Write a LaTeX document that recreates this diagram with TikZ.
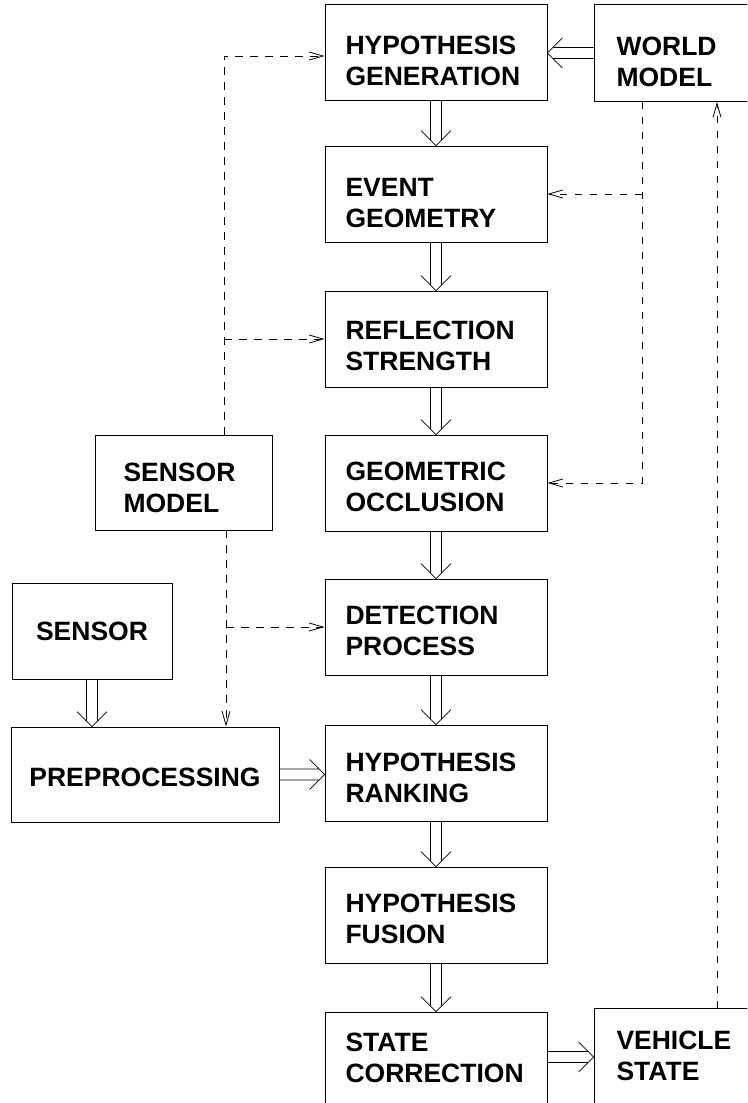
\documentclass[tikz,border=0pt]{standalone}
\usepackage{fontspec}
\setmainfont{Liberation Sans}
\usetikzlibrary{arrows.meta,calc}
\begin{document}
\begin{tikzpicture}[x=1pt,y=-1pt,
  lbl/.style={font=\bfseries\fontsize{26.5}{31}\selectfont},
  box/.style={lbl, draw, line width=0.8pt, inner sep=0pt, minimum width=222pt,
    minimum height=96pt, text width=181pt, align=left, text depth=23pt},
  wbox/.style={box, text width=177pt, minimum height=97pt},
  smbox/.style={box, minimum width=177pt, minimum height=95pt, text width=120pt},
  onebox/.style={lbl, draw, line width=0.8pt, inner sep=0pt, minimum height=96pt, align=center},
  dsh/.style={line width=0.8pt, dash pattern=on 7.5pt off 7.5pt,
    -{Straight Barb[length=14pt,width=8pt]}},
  dbldown/.style={line width=0.8pt, to path={
    ([xshift=-5.5pt]\tikztostart) -- ([xshift=-5.5pt,yshift=5.5pt]\tikztotarget)
    ([xshift=5.5pt]\tikztostart) -- ([xshift=5.5pt,yshift=5.5pt]\tikztotarget)
    ([xshift=-15pt,yshift=15pt]\tikztotarget) -- (\tikztotarget) -- ([xshift=15pt,yshift=15pt]\tikztotarget)}},
  dblright/.style={line width=0.8pt, to path={
    ([yshift=5.5pt]\tikztostart) -- ([xshift=-5.5pt,yshift=5.5pt]\tikztotarget)
    ([yshift=-5.5pt]\tikztostart) -- ([xshift=-5.5pt,yshift=-5.5pt]\tikztotarget)
    ([xshift=-15pt,yshift=15pt]\tikztotarget) -- (\tikztotarget) -- ([xshift=-15pt,yshift=-15pt]\tikztotarget)}},
  dblleft/.style={line width=0.8pt, to path={
    ([yshift=5.5pt]\tikztostart) -- ([xshift=5.5pt,yshift=5.5pt]\tikztotarget)
    ([yshift=-5.5pt]\tikztostart) -- ([xshift=5.5pt,yshift=-5.5pt]\tikztotarget)
    ([xshift=15pt,yshift=15pt]\tikztotarget) -- (\tikztotarget) -- ([xshift=15pt,yshift=-15pt]\tikztotarget)}}
]
\useasboundingbox (0,0) rectangle (747,1103);
\clip (0,0) rectangle (747,1103);

% central column
\node[box, text depth=13pt] (hg) at (436,52) {HYPOTHESIS\\GENERATION};
\node[box, text depth=13pt] (eg) at (436,194) {EVENT\\GEOMETRY};
\node[box, text depth=17pt] (rs) at (436,339) {REFLECTION\\STRENGTH};
\node[box] (go) at (436,483) {GEOMETRIC\\OCCLUSION};
\node[box] (dp) at (436,627) {DETECTION\\PROCESS};
\node[box, text depth=21pt] (hr) at (436,773) {HYPOTHESIS\\RANKING};
\node[box] (hf) at (436,915) {HYPOTHESIS\\FUSION};
\node[box, text depth=35pt] (sc) at (436,1060) {STATE\\CORRECTION};

% right column
\node[wbox, text depth=13pt] (wm) at (705,53) {WORLD\\MODEL};
\node[wbox, text depth=33pt] (vs) at (705,1057) {VEHICLE\\STATE};

% left column
\node[smbox, text depth=21pt] (sm) at (183.5,482.5) {SENSOR\\MODEL};
\node[onebox, minimum width=160pt] (sensor) at (92,631) {SENSOR};
\node[onebox, minimum width=268pt, minimum height=95pt, text height=25pt] (pre) at (145,774.5) {PREPROCESSING};

% double (hollow) arrows
\draw[dbldown] (hg.south) to (eg.north);
\draw[dbldown] (eg.south) to (rs.north);
\draw[dbldown] (rs.south) to (go.north);
\draw[dbldown] (go.south) to (dp.north);
\draw[dbldown] (dp.south) to (hr.north);
\draw[dbldown] (hr.south) to (hf.north);
\draw[dbldown] (hf.south) to (sc.north);

\coordinate (wmtip) at (wm.west -| hg.east);
\draw[dblleft] (wm.west) to (wmtip);
\coordinate (sentip) at (sensor.south |- pre.north);
\draw[dbldown] (sensor.south) to (sentip);
\coordinate (pretip) at (pre.east -| hr.west);
\draw[dblright] (pre.east) to (pretip);
\coordinate (scstart) at (vs.west -| sc.east);
\draw[dblright] (scstart) to (vs.west);

% dashed connectors
\coordinate (smt) at ($(sm.north)+(40.5,0)$);
\coordinate (smb) at ($(sm.south)+(42.5,0)$);
\coordinate (wmb) at ($(wm.south)+(-63,0)$);
\coordinate (vst) at ($(vs.north)+(12,0)$);

\draw[dsh] (smt) |- ([yshift=-4pt]hg.west);
\draw[dsh] (smt |- rs.west) -- (rs.west);
\draw[dsh] (smb) -- (smb |- pre.north);
\draw[dsh] (smb |- dp.west) -- (dp.west);
\draw[dsh] (wmb) |- (go.east);
\draw[dsh] (wmb |- eg.east) -- (eg.east);
\draw[dsh] (vst) -- (vst |- wm.south);
\end{tikzpicture}
\end{document}
